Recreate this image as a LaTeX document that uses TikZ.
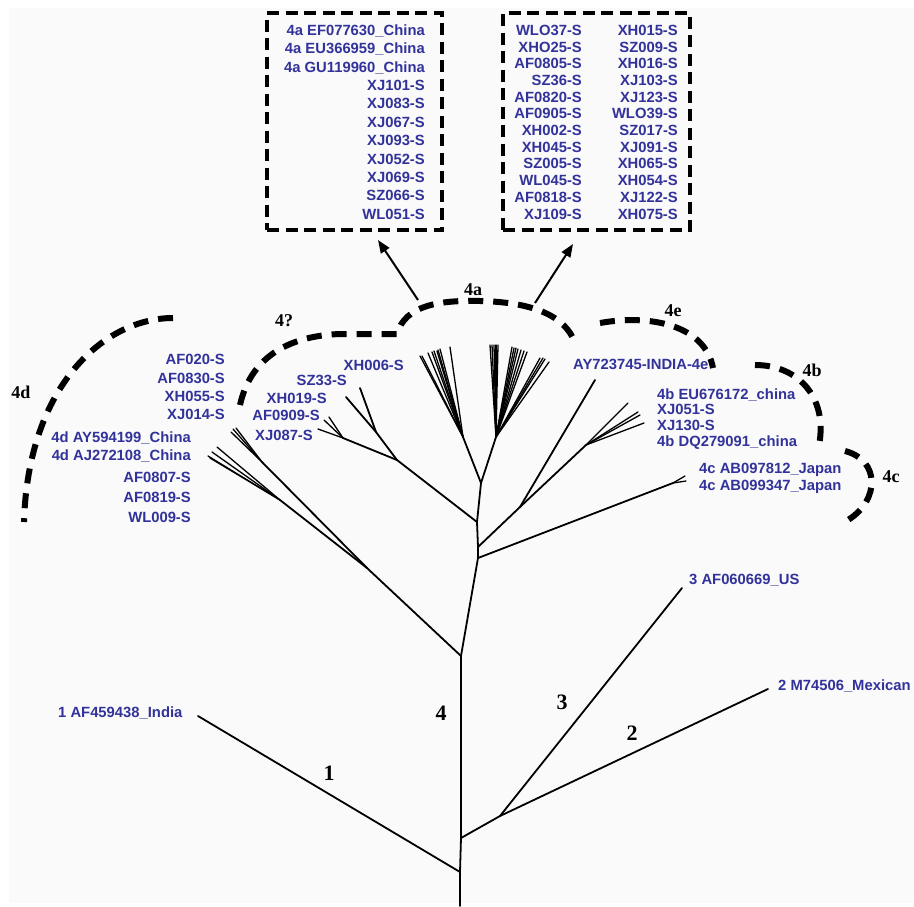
\documentclass[tikz,border=0pt]{standalone}
\usepackage{fontspec}
\setmainfont{Liberation Serif}
\setsansfont{Liberation Sans}
\usetikzlibrary{arrows.meta}
\definecolor{taxonblue}{RGB}{50,50,155}
\definecolor{paper}{RGB}{250,250,250}
\tikzset{% common styles of the tree picture
  branch/.style   = {line width=1.8pt, line cap=round, line join=round},
  twig/.style     = {line width=1.3pt, line cap=round},
  taxon/.style    = {font=\sffamily\bfseries\fontsize{14.8}{16}\selectfont,
                     text=taxonblue, inner sep=0pt},
  taxonl/.style   = {taxon, anchor=mid west},
  taxonr/.style   = {taxon, anchor=mid east},
  clade/.style    = {font=\rmfamily\bfseries\fontsize{18}{20}\selectfont, inner sep=0pt},
  lineage/.style  = {font=\rmfamily\bfseries\fontsize{22}{24}\selectfont, inner sep=0pt},
  cladearc/.style = {line width=6pt, dash pattern=on 15pt off 10pt},
  groupbox/.style = {draw, line width=4pt, dash pattern=on 12pt off 6.5pt, inner sep=0pt},
  pointer/.style  = {line width=2pt, -{Triangle[length=13pt,width=10pt]}},
}

\begin{document}
\begin{tikzpicture}[x=1pt, y=-1pt]
  \useasboundingbox (0,0) rectangle (914,906);
  \fill[paper] (9,8) rectangle (914,903);

  % boxes listing the 4a isolates
  \node[groupbox, minimum width=175pt, minimum height=217pt] (boxl) at (354.5,121.5) {};
  \node[groupbox, minimum width=187pt, minimum height=217pt] (boxr) at (596.5,121.5) {};
  \foreach \name [count=\i] in {4a EF077630\_China, 4a EU366959\_China, 4a GU119960\_China,
      XJ101-S, XJ083-S, XJ067-S, XJ093-S, XJ052-S, XJ069-S, SZ066-S, WL051-S}
    \node[taxonr] (bl\i) at (425,{33+18.4*(\i-1)}) {\name};
  \foreach \a/\b [count=\i] in {WLO37-S/XH015-S, XHO25-S/SZ009-S, AF0805-S/XH016-S,
      SZ36-S/XJ103-S, AF0820-S/XJ123-S, AF0905-S/WLO39-S, XH002-S/SZ017-S,
      XH045-S/XJ091-S, SZ005-S/XH065-S, WL045-S/XH054-S, AF0818-S/XJ122-S,
      XJ109-S/XH075-S} {
    \node[taxonr] (brl\i) at (582,{33+16.7*(\i-1)}) {\a};
    \node[taxonr] (brr\i) at (678,{33+16.7*(\i-1)}) {\b};
  }

  % backbone
  \coordinate (root) at (460,906);
  \coordinate (n1)   at (460,872);
  \coordinate (n23)  at (461,838);
  \coordinate (n4)   at (461,656);
  \coordinate (n4c)  at (478,558);
  \coordinate (n4b)  at (478,547);
  \coordinate (n4q)  at (477,522);
  \coordinate (n4a)  at (481,483);
  \draw[branch] (root) -- (n1) -- (n23) -- (n4) -- (n4c) -- (n4b) -- (n4q) -- (n4a);

  % genotypes 1, 2 and 3
  \coordinate (t1)   at (198,716);
  \coordinate (n23b) at (500,816);
  \coordinate (t2)   at (768,689);
  \coordinate (t3)   at (682,588);
  \draw[branch] (n1) -- (t1);
  \draw[branch] (n23) -- (n23b) -- (t2);
  \draw[branch] (n23b) -- (t3);

  % 4d and the left part of 4?
  \coordinate (nl)  at (367,568);
  \coordinate (nlq) at (262,462);
  \coordinate (nld) at (280,500);
  \draw[branch] (n4) -- (nl) -- (nlq);
  \draw[branch] (nl) -- (nld);
  \foreach \x/\y [count=\i] in {231/432, 233/429, 236/428} {
    \coordinate (lq\i) at (\x,\y);
    \draw[twig] (nlq) -- (lq\i);
  }
  \foreach \x/\y [count=\i] in {208/456, 210/458, 212/452, 217/447} {
    \coordinate (ld\i) at (\x,\y);
    \draw[twig] (nld) -- (ld\i);
  }

  % right part of 4?
  \coordinate (nqa) at (397,460);
  \coordinate (nqb) at (376,432);
  \coordinate (nqc) at (343,438);
  \coordinate (txh) at (360,388);
  \coordinate (tsz) at (346,397);
  \draw[branch] (n4q) -- (nqa) -- (nqb) -- (tsz);
  \draw[branch] (nqb) -- (txh);
  \draw[branch] (nqa) -- (nqc);
  \foreach \x/\y [count=\i] in {318/429, 324/420, 329/417} {
    \coordinate (qc\i) at (\x,\y);
    \draw[twig] (nqc) -- (qc\i);
  }

  % 4a fans
  \coordinate (fl) at (463,437);
  \coordinate (fr) at (496,437);
  \draw[branch] (n4a) -- (fl);
  \draw[branch] (n4a) -- (fr);
  \foreach \x/\y [count=\i] in {420/356, 422/356, 428/353, 432/352, 434/351,
      437/351, 438/350, 440/349, 450/347} {
    \coordinate (fl\i) at (\x,\y);
    \draw[twig] (fl) -- (fl\i);
  }
  \foreach \x/\y [count=\i] in {490/345, 492/345, 494/345, 496/345, 498/345,
      512/347, 514/348, 516/348, 518/349, 521/350, 524/351, 527/352,
      540/358, 543/358, 545/359, 549/362} {
    \coordinate (fr\i) at (\x,\y);
    \draw[twig] (fr) -- (fr\i);
  }

  % 4e, 4b and 4c
  \coordinate (nbe) at (520,507);
  \coordinate (tay) at (595,380);
  \coordinate (nb)  at (586,445);
  \coordinate (nc)  at (673,483);
  \draw[branch] (n4b) -- (nbe) -- (tay);
  \draw[branch] (nbe) -- (nb);
  \draw[branch] (n4c) -- (nc);
  \foreach \x/\y [count=\i] in {628/403, 638/412, 640/415, 644/423} {
    \coordinate (b\i) at (\x,\y);
    \draw[twig] (nb) -- (b\i);
  }
  \foreach \x/\y [count=\i] in {685/476, 686/481} {
    \coordinate (c\i) at (\x,\y);
    \draw[twig] (nc) -- (c\i);
  }

  % taxon labels
  \foreach \name/\y [count=\i] in {AF020-S/362, AF0830-S/381, XH055-S/399, XJ014-S/417}
    \node[taxonr] (lq\i) at (225,\y) {\name};
  \foreach \name/\y [count=\i] in {4d AY594199\_China/440, 4d AJ272108\_China/458,
      AF0807-S/480, AF0819-S/500, WL009-S/520}
    \node[taxonr] (ld\i) at (191,\y) {\name};
  \node[taxonr] (lxh006) at (404,368) {XH006-S};
  \node[taxonr] (lsz33)  at (347,383) {SZ33-S};
  \node[taxonr] (lxh019) at (327,401) {XH019-S};
  \node[taxonr] (laf0909) at (320,418) {AF0909-S};
  \node[taxonr] (lxj087) at (313,438) {XJ087-S};
  \node[taxonl] (lay) at (573,367) {AY723745-INDIA-4e};
  \foreach \name/\y [count=\i] in {4b EU676172\_china/397, XJ051-S/412,
      XJ130-S/428, 4b DQ279091\_china/444}
    \node[taxonl] (lb\i) at (657,\y) {\name};
  \node[taxonl] (lc1) at (699,471) {4c AB097812\_Japan};
  \node[taxonl] (lc2) at (699,488) {4c AB099347\_Japan};
  \node[taxonl] (l1) at (58,715) {1 AF459438\_India};
  \node[taxonl] (l3) at (689,582) {3 AF060669\_US};
  \node[taxonl] (l2) at (778,688) {2 M74506\_Mexican};

  % genotype numbers
  \node[lineage] (num1) at (329,773) {1};
  \node[lineage] (num2) at (632,733) {2};
  \node[lineage] (num3) at (562,702) {3};
  \node[lineage] (num4) at (441,713) {4};

  % subgenotype arcs
  \draw[cladearc] (173,318) .. controls (105,318) and (28,385) .. (24,522);
  \draw[cladearc] (240,405) .. controls (250,360) and (285,336) .. (340,334) -- (397,334)
    .. controls (405,305) and (440,300) .. (480,301)
    .. controls (525,302) and (560,312) .. (573,338);
  \draw[cladearc] (600,323) .. controls (650,314) and (705,325) .. (713,368);
  \draw[cladearc] (755,365) .. controls (800,365) and (830,400) .. (818,450);
  \draw[cladearc] (845,451) .. controls (880,460) and (880,500) .. (848,520);
  \node[clade] (c4d) at (21,392)  {4d};
  \node[clade] (c4q) at (284,321) {4?};
  \node[clade] (c4a) at (473,290) {4a};
  \node[clade] (c4e) at (673,311) {4e};
  \node[clade] (c4b) at (812,370) {4b};
  \node[clade] (c4c) at (891,477) {4c};

  % arrows to the boxes
  \coordinate (arcl) at (418,300);
  \coordinate (arcr) at (535,303);
  \coordinate (tipl) at (378,240);
  \coordinate (tipr) at (573,244);
  \draw[pointer] (arcl) -- (tipl);
  \draw[pointer] (arcr) -- (tipr);
\end{tikzpicture}
\end{document}
